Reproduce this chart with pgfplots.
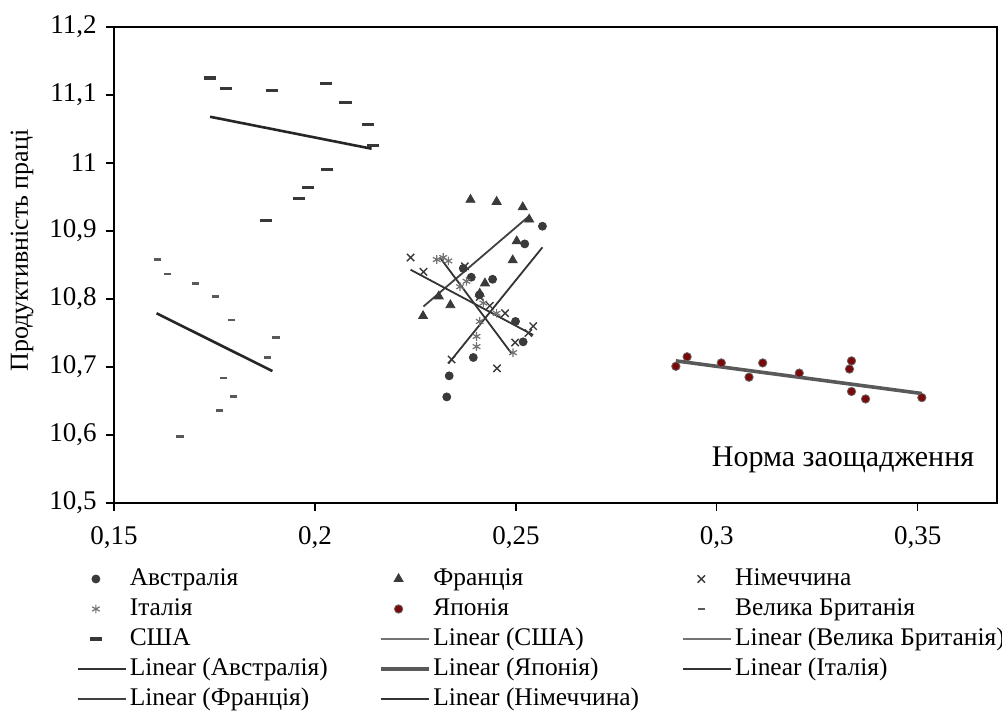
\documentclass[border=0pt]{standalone}
\usepackage{pgfplots}
\pgfplotsset{compat=1.18}
\usepackage{fontspec}
\setmainfont{Liberation Serif}
\definecolor{mk}{HTML}{3A3A3A}
\definecolor{jp}{HTML}{7A0A0A}
\pgfplotsset{
  sc/.style={only marks, legend image code/.code={\draw[##1] plot coordinates {(9pt,0pt)};}},
  trend/.style={no marks, legend image code/.code={\draw[##1] (0pt,0pt) -- (24pt,0pt);}},
  trendthin/.style={no marks, legend image code/.code={\draw[black!55, line width=0.6pt] (0pt,0pt) -- (24pt,0pt);}},
}
\begin{document}
\fontsize{13.5}{16}\selectfont
\begin{tikzpicture}
\useasboundingbox (-57pt,-106.5pt) rectangle (444pt,251.5pt);
\begin{axis}[
  at={(0pt,0pt)}, anchor=south west,
  scale only axis, width=441.5pt, height=238pt,
  xmin=0.15, xmax=0.3697, ymin=10.5, ymax=11.2,
  xtick={0.15,0.2,0.25,0.3,0.35},
  ytick={10.5,10.6,10.7,10.8,10.9,11,11.1,11.2},
  /pgf/number format/use comma,
  /pgf/number format/assume math mode=true,
  tick align=outside, major tick length=4pt,
  xtick pos=bottom, ytick pos=left,
  axis line style={line width=0.8pt, black},
  tick style={line width=0.6pt, black},
  xticklabel style={yshift=-3pt},
  xlabel={Норма заощадження},
  xlabel style={at={(axis description cs:0.8256,0.09)}, anchor=center, font=\fontsize{15}{17}\selectfont},
  ylabel={Продуктивність праці},
  ylabel style={at={(axis description cs:-0.1042,0.53)}, anchor=center, font=\fontsize{13}{15}\selectfont},
  legend columns=3,
  legend cell align=left,
  legend style={at={(axis description cs:0,0)}, anchor=north west,
    xshift=-18.5pt, yshift=-31pt, draw=none, fill=none,
    inner sep=0pt, outer sep=0pt, column sep=0pt, row sep=1pt,
    font=\fontsize{12.7}{15}\selectfont,
    nodes={inner xsep=1.5pt, inner ysep=0pt, text height=10.5pt, text depth=3.5pt}},
]
% Australia
\addplot[sc, mark=*, mark size=2pt, color=mk] coordinates {
(0.2566,10.907) (0.2522,10.881) (0.2442,10.829) (0.2389,10.832) (0.2369,10.845)
(0.2409,10.806) (0.2499,10.767) (0.2518,10.737) (0.2394,10.714) (0.2334,10.687) (0.2328,10.656)};
\addlegendentry{\makebox[123pt][l]{Австралія}}
% France
\addplot[sc, mark=triangle*, mark size=2.6pt, color=mk] coordinates {
(0.2387,10.946) (0.2452,10.943) (0.2517,10.935) (0.2533,10.917) (0.2502,10.885)
(0.2492,10.857) (0.2423,10.823) (0.2410,10.808) (0.2308,10.804) (0.2337,10.791) (0.2269,10.775)};
\addlegendentry{\makebox[123pt][l]{Франція}}
% Germany
\addplot[sc, mark=x, mark size=2.6pt, color=mk, mark options={line width=0.7pt}] coordinates {
(0.2238,10.861) (0.2270,10.840) (0.2373,10.848) (0.2410,10.803) (0.2435,10.790)
(0.2473,10.779) (0.2543,10.760) (0.2531,10.750) (0.2498,10.736) (0.2453,10.698) (0.2340,10.711)};
\addlegendentry{Німеччина}
% Italy
\addplot[sc, mark=asterisk, mark size=2.2pt, color=black!55, mark options={line width=0.6pt}] coordinates {
(0.2303,10.858) (0.2319,10.861) (0.2332,10.856) (0.2361,10.818) (0.2377,10.826)
(0.2419,10.794) (0.2452,10.779) (0.2410,10.767) (0.2402,10.745) (0.2402,10.730) (0.2493,10.721)};
\addlegendentry{\makebox[123pt][l]{Італія}}
% Japan
\addplot[sc, mark=*, mark size=2.1pt, color=black!60, mark options={fill=jp}] coordinates {
(0.2898,10.701) (0.2926,10.715) (0.3011,10.706) (0.3114,10.706) (0.3080,10.685)
(0.3205,10.691) (0.3335,10.709) (0.3330,10.697) (0.3335,10.664) (0.3370,10.653) (0.3510,10.655)};
\addlegendentry{\makebox[123pt][l]{Японія}}
% UK
\addplot[sc, mark=-, mark size=1.8pt, color=black!65, mark options={line width=1.3pt}] coordinates {
(0.1609,10.858) (0.1633,10.837) (0.1702,10.823) (0.1752,10.804) (0.1793,10.769)
(0.1903,10.743) (0.1882,10.714) (0.1773,10.684) (0.1798,10.657) (0.1763,10.636) (0.1664,10.598)};
\addlegendentry{Велика Британія}
% USA
\addplot[sc, mark=-, mark size=3pt, color=black!78, mark options={line width=1.6pt}] coordinates {
(0.1739,11.125) (0.1779,11.110) (0.1894,11.107) (0.2027,11.117) (0.2076,11.089)
(0.2131,11.057) (0.2145,11.026) (0.2031,10.990) (0.1983,10.964) (0.1961,10.948) (0.1877,10.916)};
\addlegendentry{\makebox[123pt][l]{США}}
% trend lines
\addplot[trendthin, line width=1.3pt, color=black!85] coordinates {(0.1739,11.068) (0.2141,11.021)};
\addlegendentry{\makebox[123pt][l]{Linear (США)}}
\addplot[trendthin, line width=1.3pt, color=black!85] coordinates {(0.1606,10.779) (0.1894,10.694)};
\addlegendentry{Linear (Велика Британія)}
\addplot[trend, line width=0.9pt, color=black!80] coordinates {(0.2332,10.705) (0.2566,10.876)};
\addlegendentry{\makebox[123pt][l]{Linear (Австралія)}}
\addplot[trend, line width=1.8pt, color=black!65] coordinates {(0.2898,10.709) (0.3510,10.661)};
\addlegendentry{\makebox[123pt][l]{Linear (Японія)}}
\addplot[trend, line width=0.9pt, color=black!80] coordinates {(0.2311,10.861) (0.2489,10.720)};
\addlegendentry{Linear (Італія)}
\addplot[trend, line width=0.9pt, color=black!75] coordinates {(0.2270,10.789) (0.2531,10.921)};
\addlegendentry{\makebox[123pt][l]{Linear (Франція)}}
\addplot[trend, line width=0.9pt, color=black!80] coordinates {(0.2238,10.843) (0.2543,10.747)};
\addlegendentry{\makebox[123pt][l]{Linear (Німеччина)}}
\end{axis}
\end{tikzpicture}
\end{document}
